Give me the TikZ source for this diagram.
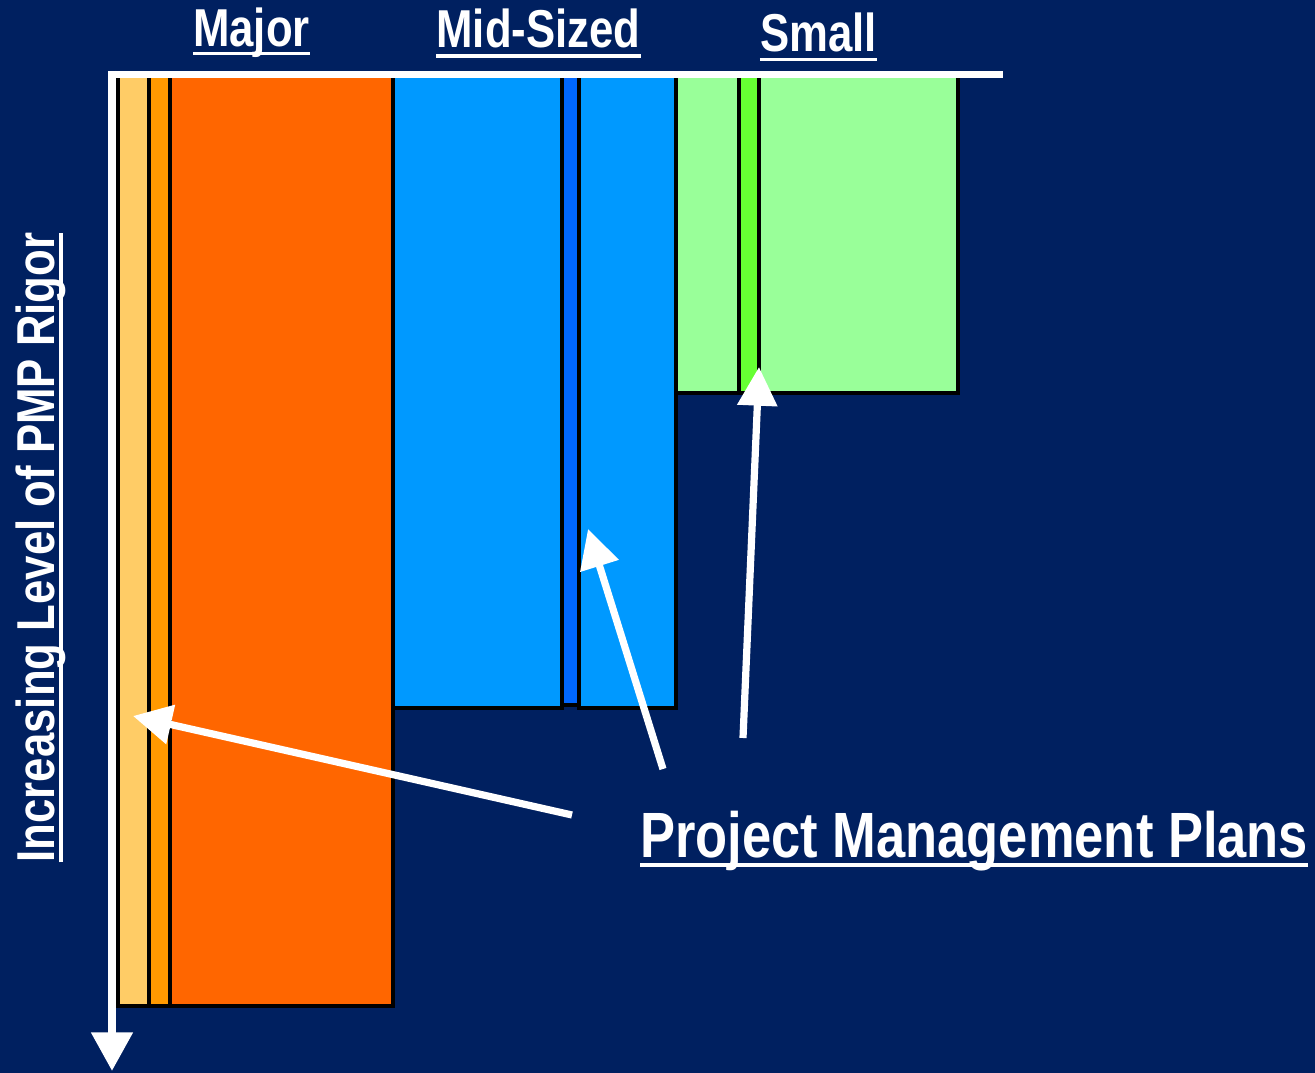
\documentclass[tikz,border=0pt]{standalone}
\usepackage{fontspec}
\setmainfont{Liberation Sans}[FakeStretch=0.82]
\usetikzlibrary{arrows.meta}
\definecolor{navy}{RGB}{0,32,96}
\definecolor{paleorange}{HTML}{FFCC66}
\definecolor{midorange}{HTML}{FF9900}
\definecolor{deeporange}{HTML}{FF6600}
\definecolor{skyblue}{HTML}{0099FF}
\definecolor{royalblue}{HTML}{0066FF}
\definecolor{palegreen}{HTML}{99FF99}
\definecolor{limegreen}{HTML}{66FF33}
\tikzset{
  col/.style={draw=black, line width=3pt},
  head/.style={text=white, inner sep=0pt, anchor=base, font=\bfseries\fontsize{40}{48}\selectfont},
  uline/.style={white, line width=2.4pt},
  pointer/.style={white, line width=5.4pt, -{Triangle[length=29pt, width=29pt]}},
}
\begin{document}
\begin{tikzpicture}[x=0.75pt, y=-0.75pt]
  \fill[navy] (0,0) rectangle (1315,1073);
  \useasboundingbox (0,0) rectangle (1315,1073);

  % Major projects
  \filldraw[col, fill=paleorange] (118,75) rectangle (149,1006);
  \filldraw[col, fill=midorange] (149,75) rectangle (170,1006);
  \filldraw[col, fill=deeporange] (170,75) rectangle (393,1006);
  % Mid-sized projects
  \filldraw[col, fill=skyblue] (393,75) rectangle (562,708);
  \filldraw[col, fill=royalblue] (562,75) rectangle (579,705);
  \filldraw[col, fill=skyblue] (579,75) rectangle (676,708);
  % Small projects
  \filldraw[col, fill=palegreen] (676,75) rectangle (739,393.5);
  \filldraw[col, fill=limegreen] (739,75) rectangle (759,393.5);
  \filldraw[col, fill=palegreen] (759,75) rectangle (958,393.5);

  % axes
  \coordinate (ax0) at (112,71);
  \coordinate (ax1) at (112,1071);
  \fill[white] (108,71) rectangle (1003,78);
  \draw[white, line width=6pt, -{Triangle[length=29pt, width=30pt]}] (ax0) -- (ax1);

  % column headings
  \node[head] (major) at (251.5,47) {Major};
  \node[head] (mid) at (538.5,48) {Mid-Sized};
  \node[head] (small) at (818.5,52) {Small};
  \draw[uline] ([yshift=-5pt]major.base west) -- ([yshift=-5pt]major.base east);
  \draw[uline] ([yshift=-6pt]mid.base west) -- ([yshift=-6pt]mid.base east);
  \draw[uline] ([yshift=-5.5pt]small.base west) -- ([yshift=-5.5pt]small.base east);

  % vertical axis label
  \node[head, rotate=90] (rigor) at (55,547.5) {Increasing Level of PMP Rigor};
  \draw[uline] ([xshift=4.5pt]rigor.base west) -- ([xshift=4.5pt]rigor.base east);

  % plans label
  \node[head, anchor=base west, font=\bfseries\fontsize{48}{56}\selectfont] (pmp) at (640,857) {Project Management Plans};
  \draw[white, line width=3pt] ([yshift=-6.2pt]pmp.base west) -- ([yshift=-6.2pt]pmp.base east);

  % pointers to the plan strips
  \coordinate (t1) at (572,815);
  \coordinate (h1) at (133,716);
  \coordinate (t2) at (663,769);
  \coordinate (h2) at (588,529);
  \coordinate (t3) at (743,738);
  \coordinate (h3) at (759,367);
  \draw[pointer] (t1) -- (h1);
  \draw[pointer] (t2) -- (h2);
  \draw[pointer] (t3) -- (h3);
\end{tikzpicture}
\end{document}
